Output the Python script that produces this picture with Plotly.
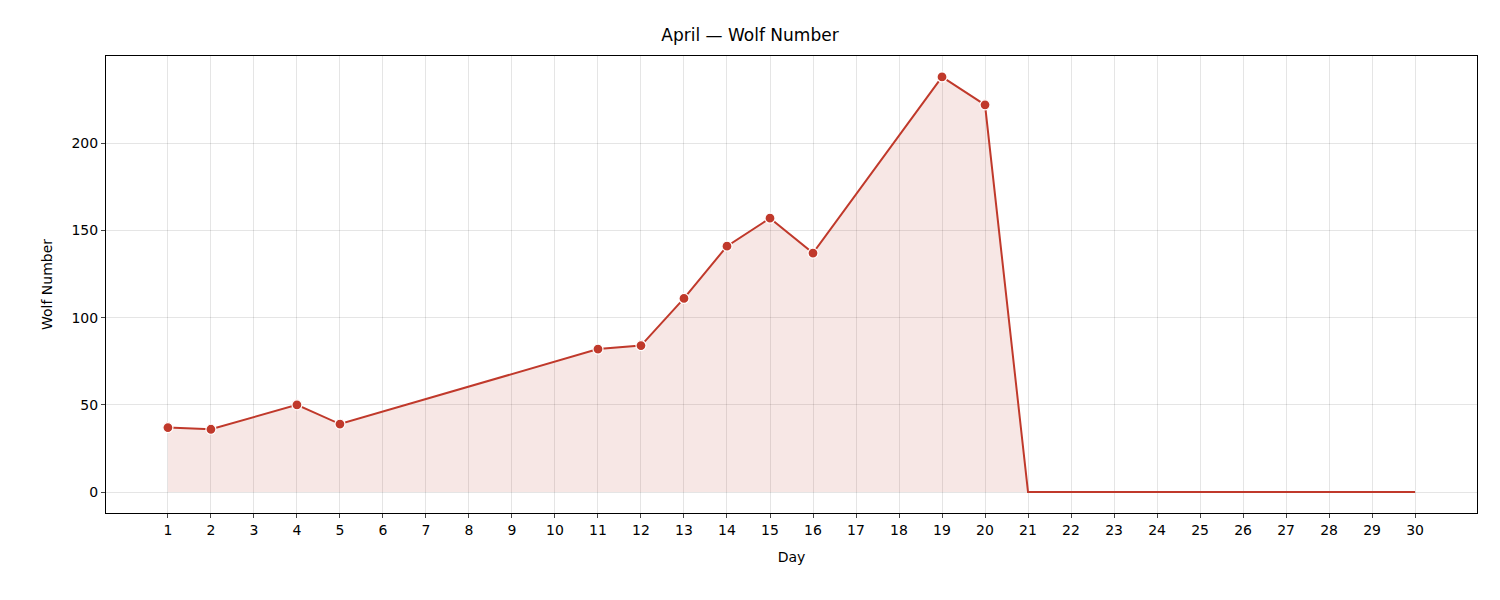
import plotly.graph_objects as go

days = [1, 2, 4, 5, 11, 12, 13, 14, 15, 16, 19, 20, 21, 22, 23, 24, 25, 26, 27, 28, 29, 30]
wolf = [37, 36, 50, 39, 82, 84, 111, 141, 157, 137, 238, 222, 0, 0, 0, 0, 0, 0, 0, 0, 0, 0]
mark_days = [d for d, v in zip(days, wolf) if v > 0]
mark_vals = [v for v in wolf if v > 0]
ticks = list(range(1, 31))
red = "#c0392b"

fig = go.Figure()
fig.add_trace(go.Scatter(x=days, y=wolf, mode="lines", line=dict(color=red, width=2),
                         fill="tozeroy", fillcolor="rgba(192,57,43,0.12)", showlegend=False))
fig.add_trace(go.Scatter(x=mark_days, y=mark_vals, mode="markers",
                         marker=dict(color=red, size=10, line=dict(color="white", width=1.2)),
                         showlegend=False))
axis = dict(showline=True, linecolor="black", mirror=True, ticks="outside", ticklen=4,
            gridcolor="rgba(0,0,0,0.1)", zeroline=False, tickfont=dict(size=14, color="black"))
fig.update_layout(
    width=1484, height=584, plot_bgcolor="white", paper_bgcolor="white",
    font=dict(family="DejaVu Sans", color="black"),
    margin=dict(l=98, r=15, t=48, b=79),
    title=dict(text="April — Wolf Number", x=0.5, xanchor="center", y=0.954, yanchor="middle",
               font=dict(size=17)),
    xaxis=dict(axis, range=[-0.44, 31.44], tickvals=ticks, title=dict(text="Day", font=dict(size=14))),
    yaxis=dict(axis, range=[-12, 250], tickvals=[0, 50, 100, 150, 200],
               title=dict(text="Wolf Number", font=dict(size=14))),
)
fig.write_html("out.html")
